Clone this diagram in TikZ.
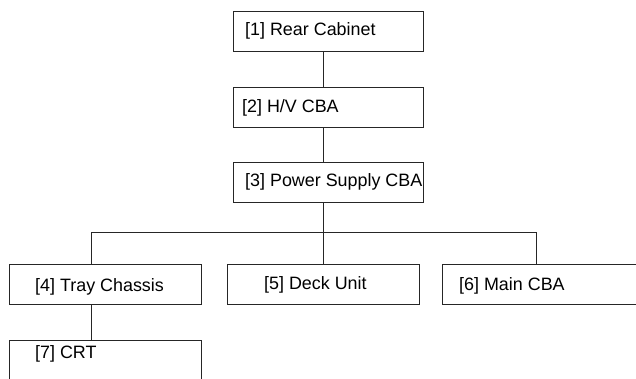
\documentclass[tikz,border=0pt]{standalone}
\usepackage{fontspec}
\setmainfont{Liberation Sans}
\begin{document}
\begin{tikzpicture}[x=1pt,y=-1pt,
  box/.style={draw=black!85, line width=0.9pt, inner sep=0pt, anchor=north west},
  lbl/.style={anchor=base west, inner sep=0pt, font=\fontsize{17.9}{21}\selectfont},
  link/.style={draw=black!85, line width=0.9pt}]
\useasboundingbox (0,0) rectangle (636,379);
\clip (0,0) rectangle (636,379);
% boxes
\node[box, minimum width=190pt, minimum height=40pt] (b1) at (233,11) {};
\node[box, minimum width=190pt, minimum height=40pt] (b2) at (233,87) {};
\node[box, minimum width=190pt, minimum height=40pt] (b3) at (233,162) {};
\node[box, minimum width=192pt, minimum height=40pt] (b4) at (9,264) {};
\node[box, minimum width=192pt, minimum height=40.5pt] (b5) at (227,263.5) {};
\node[box, minimum width=220pt, minimum height=40pt] (b6) at (442,264) {};
\node[box, minimum width=192pt, minimum height=70pt] (b7) at (9,340) {};
% labels
\node[lbl] (t1) at (245,36) {[1] Rear Cabinet};
\node[lbl] (t2) at (242,113) {[2] H/V CBA};
\node[lbl] (t3) at (245,187) {[3] Power Supply CBA};
\node[lbl] (t4) at (35,291) {[4] Tray Chassis};
\node[lbl] (t5) at (264,289) {[5] Deck Unit};
\node[lbl] (t6) at (459,290) {[6] Main CBA};
\node[lbl] (t7) at (35,358) {[7] CRT};
% guide coordinates
\coordinate (spine) at (323.5,0);
\coordinate (c4) at (91,0);
\coordinate (c6) at (536,0);
\coordinate (bus) at (0,232);
% connectors
\draw[link] (b1.south -| spine) -- (b2.north -| spine);
\draw[link] (b2.south -| spine) -- (b3.north -| spine);
\draw[link] (b3.south -| spine) -- (bus -| spine) -- (b5.north -| spine);
\draw[link] (b4.north -| c4) |- (bus -| c6) -- (b6.north -| c6);
\draw[link] (b4.south -| c4) -- (b7.north -| c4);
\end{tikzpicture}
\end{document}
